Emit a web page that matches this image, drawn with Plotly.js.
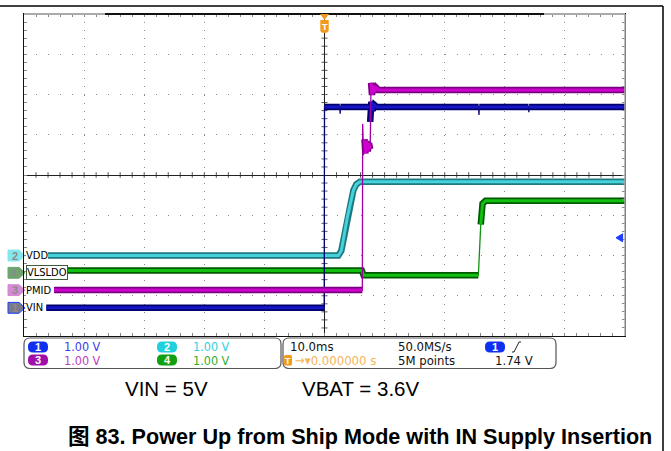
<!DOCTYPE html>
<html><head><meta charset="utf-8">
<script src="https://cdn.plot.ly/plotly-3.0.1.min.js"></script>
<style>html,body{margin:0;padding:0;background:#fff;}#chart{width:671px;height:451px;}</style>
</head><body><div id="chart"></div>
<script>
// ---- data (time in ms, 10 ms/div; amplitude in volts, 1.00 V/div) ----
const channelNames = ['VIN', 'VDD', 'PMID', 'VLSLDO'];
const channelNums = ['1', '2', '3', '4'];
const channelOffsetsDiv = [-3.30, -2.00, -2.86, -2.43];   // ground markers, divisions from centre
const voltsPerDiv = [1.00, 1.00, 1.00, 1.00];
const scaleLabels = ['1.00 V', '1.00 V', '1.00 V', '1.00 V'];

const vinTime  = [-46.3, -0.05, 0.0, 2.55, 2.6, 2.65, 7.5, 7.6, 7.8, 8.0, 8.3, 8.7, 25.65, 25.7, 25.75, 33.95, 34.0, 34.05, 50];
const vinVolts = [0.0, 0.0, 4.99, 4.99, 4.82, 4.99, 4.99, 4.62, 5.12, 4.90, 5.04, 4.99, 4.99, 4.79, 4.99, 4.99, 4.86, 4.99, 4.99];

const vddTime  = [-46.3, 2.3, 2.8, 3.8, 4.8, 5.3, 5.9, 50];
const vddVolts = [0.0, 0.0, 0.12, 0.95, 1.62, 1.77, 1.83, 1.83];

const pmidTime  = [-45.0, 6.3, 6.35, 6.5, 6.65, 6.8, 7.0, 7.2, 7.4, 7.6, 7.75, 7.9, 8.1, 8.3, 8.6, 9.0, 50];
const pmidVolts = [0.0, 0.0, 4.13, 3.35, 3.75, 3.40, 3.70, 3.45, 3.65, 3.50, 5.15, 4.85, 5.08, 4.92, 5.03, 4.97, 4.97];

const vlsTime  = [-43.7, 6.2, 6.5, 25.6, 26.0, 26.3, 26.8, 50];
const vlsVolts = [0.06, 0.06, -0.06, -0.06, 1.20, 1.72, 1.79, 1.79];

const timebase = '10.0ms', sampleRate = '50.0MS/s', recordLen = '5M points';
const triggerPos = '0.000000 s', triggerChannel = 0, triggerLevel = 1.74;
const noteLeft = 'VIN = 5V', noteRight = 'VBAT = 3.6V';
const caption = '图 83. Power Up from Ship Mode with IN Supply Insertion';

// ---- geometry helpers (pixel -> paper) ----
const L = 24, R = 625, T = 14, B = 336;
const px2x = p => (p - L) / (R - L);
const py2y = p => (B - p) / (B - T);
const NARROW = 'Liberation Sans Narrow, DejaVu Sans Condensed, Liberation Sans, sans-serif';
const ARIAL = 'Liberation Sans, Arial, Noto Sans CJK SC, sans-serif';

const seriesT = [vinTime, vddTime, pmidTime, vlsTime];
const seriesV = [vinVolts, vddVolts, pmidVolts, vlsVolts];
const styles = [
  {core: '#1616C8', edge: '#00006A', thin: '#000070', mark: '#7a7a8a', markLine: '#1a3cff', pill: '#1030F0', txt: '#3C3CF0'},
  {core: '#46D2DA', edge: '#1E7A80', thin: '#2AA0A8', mark: '#86E6EE', markLine: '#86E6EE', pill: '#20D0DC', txt: '#30D0DC'},
  {core: '#D000D0', edge: '#7A0080', thin: '#A000A8', mark: '#D48AD4', markLine: '#D48AD4', pill: '#A010A8', txt: '#C040C0'},
  {core: '#12C012', edge: '#005A00', thin: '#109010', mark: '#6FA46F', markLine: '#6FA46F', pill: '#10A010', txt: '#30B030'}
];
const drawOrder = [1, 3, 0, 2];
const slopeThr = 2.5; // div per ms: steeper segments drawn as thin edges

const traces = [];
drawOrder.forEach(c => {
  const t = seriesT[c], y = seriesV[c].map(v => channelOffsetsDiv[c] + v / voltsPerDiv[c]);
  const bx = [], by = [];
  for (let i = 0; i < t.length; i++) {
    if (i > 0 && Math.abs(y[i] - y[i - 1]) / (t[i] - t[i - 1]) > slopeThr) { bx.push(null); by.push(null); }
    bx.push(t[i]); by.push(y[i]);
  }
  const s = styles[c];
  traces.push({x: t, y: y, mode: 'lines', line: {color: s.thin, width: 1.3}, hoverinfo: 'skip', showlegend: false});
  traces.push({x: bx, y: by, mode: 'lines', connectgaps: false, line: {color: s.edge, width: 6.5}, hoverinfo: 'skip', showlegend: false});
  traces.push({x: bx, y: by, mode: 'lines', connectgaps: false, line: {color: s.core, width: 3}, hoverinfo: 'skip', showlegend: false, name: channelNames[c]});
});

const shapes = [], annotations = [];
// centre-line tick marks
for (let t = -48; t <= 48; t += 2) if (t !== 0)
  shapes.push({type: 'line', xref: 'x', yref: 'y', x0: t, x1: t, y0: -0.07, y1: 0.07, line: {color: '#555', width: 1}, layer: 'below'});
for (let k = -19; k <= 19; k++) if (k !== 0)
  shapes.push({type: 'line', xref: 'x', yref: 'y', x0: -0.5, x1: 0.5, y0: k * 0.2, y1: k * 0.2, line: {color: '#555', width: 1}, layer: 'below'});

// top record bar and right border
shapes.push({type: 'line', xref: 'paper', yref: 'paper', x0: 0, x1: px2x(105), y0: 1, y1: 1, line: {color: '#AAAAAA', width: 2.2}});
shapes.push({type: 'line', xref: 'paper', yref: 'paper', x0: px2x(105), x1: px2x(544), y0: 1, y1: 1, line: {color: '#111', width: 2.2}});
shapes.push({type: 'line', xref: 'paper', yref: 'paper', x0: px2x(544), x1: 1, y0: 1, y1: 1, line: {color: '#AAAAAA', width: 2.2}});
shapes.push({type: 'line', xref: 'paper', yref: 'paper', x0: 1, x1: 1, y0: 0, y1: 1, line: {color: '#AAAAAA', width: 1.5}});
// outer page frame
shapes.push({type: 'line', xref: 'paper', yref: 'paper', x0: px2x(0), x1: px2x(663), y0: py2y(6), y1: py2y(6), line: {color: '#000', width: 1.5}});
shapes.push({type: 'line', xref: 'paper', yref: 'paper', x0: px2x(663), x1: px2x(663), y0: py2y(6), y1: py2y(451), line: {color: '#000', width: 1.5}});

// centred label helper
const ctr = (xref, x, yref, y, text, size, color, fam) => annotations.push({xref: xref, yref: yref, x: x, y: y,
  xanchor: 'center', yanchor: 'middle', text: text, showarrow: false, font: {family: fam || ARIAL, size: size, color: color}});

// trigger position marker
shapes.push({type: 'path', xref: 'x', yref: 'paper', path: `M -0.75,${py2y(14)} L 0.75,${py2y(14)} L 0,${py2y(20)} Z`, fillcolor: '#F29A1E', line: {width: 0}});
shapes.push({type: 'path', xref: 'x', yref: 'paper', path: `M -0.7,${py2y(20)} L 0.7,${py2y(20)} L 0.7,${py2y(30)} Q 0.7,${py2y(33)} 0,${py2y(33)} Q -0.7,${py2y(33)} -0.7,${py2y(30)} Z`, fillcolor: '#F29A1E', line: {width: 0}});
ctr('x', 0, 'paper', py2y(26.5), '<b>T</b>', 9, '#fff');

// trigger level arrow (right edge)
const trigY = channelOffsetsDiv[triggerChannel] + triggerLevel / voltsPerDiv[triggerChannel];
shapes.push({type: 'path', xref: 'x', yref: 'y', path: `M 48.5,${trigY} L 49.6,${trigY + 0.1} L 49.6,${trigY - 0.1} Z`, fillcolor: '#1E3CFF', line: {color: '#1E3CFF', width: 1}});

// channel ground markers and labels
for (let c = 0; c < 4; c++) {
  const off = channelOffsetsDiv[c], h = 0.135, s = styles[c];
  shapes.push({type: 'path', xref: 'paper', yref: 'y', layer: 'below',
    path: `M ${px2x(8)},${off + h} L ${px2x(19)},${off + h} L ${px2x(25)},${off} L ${px2x(19)},${off - h} L ${px2x(8)},${off - h} Z`,
    fillcolor: s.mark, line: {color: s.markLine, width: 1}});
  ctr('paper', px2x(14.5), 'y', off, '<b>' + channelNums[c] + '</b>', 11, '#8C8C8C');
  annotations.push({xref: 'paper', yref: 'y', x: px2x(25.5), y: off, xanchor: 'left', yanchor: 'middle', text: channelNames[c], showarrow: false,
    font: {family: NARROW, size: 11, color: '#000'}, bgcolor: '#fff', borderpad: 0,
    bordercolor: c === 3 ? '#3d5d3d' : 'rgba(0,0,0,0)', borderwidth: c === 3 ? 1 : 0});
}

// info boxes
function rr(x0, y0, x1, y1, r) {
  const P = (x, y) => px2x(x) + ',' + py2y(y);
  return `M ${P(x0 + r, y0)} L ${P(x1 - r, y0)} Q ${P(x1, y0)} ${P(x1, y0 + r)} L ${P(x1, y1 - r)} Q ${P(x1, y1)} ${P(x1 - r, y1)} L ${P(x0 + r, y1)} Q ${P(x0, y1)} ${P(x0, y1 - r)} L ${P(x0, y0 + r)} Q ${P(x0, y0)} ${P(x0 + r, y0)} Z`;
}
shapes.push({type: 'path', xref: 'paper', yref: 'paper', layer: 'below', path: rr(24, 338, 281, 368.5, 6), line: {color: '#555', width: 1.2}});
shapes.push({type: 'path', xref: 'paper', yref: 'paper', layer: 'below', path: rr(283, 338, 556, 368.5, 6), line: {color: '#555', width: 1.2}});
const txt = (xpx, ypx, text, color, size, fam) => annotations.push({xref: 'paper', yref: 'paper', x: px2x(xpx), y: py2y(ypx),
  xanchor: 'left', yanchor: 'middle', text: text, showarrow: false, font: {family: fam || NARROW, size: size || 13, color: color}});
const pill = (cx, cy, fill, num) => {
  shapes.push({type: 'path', xref: 'paper', yref: 'paper', layer: 'below', path: rr(cx - 10, cy - 5.5, cx + 10, cy + 5.5, 5), fillcolor: fill, line: {width: 0}});
  ctr('paper', px2x(cx), 'paper', py2y(cy), '<b>' + num + '</b>', 11, '#fff');
};
const pillPos = [[38, 347], [167, 347], [38, 360], [167, 360]];
const txtPos = [[62, 347], [191, 347], [62, 360], [191, 360]];
for (let c = 0; c < 4; c++) {
  pill(pillPos[c][0], pillPos[c][1], styles[c].pill, channelNums[c]);
  txt(txtPos[c][0], txtPos[c][1], scaleLabels[c], styles[c].txt, 12.5);
}
txt(288, 347, timebase, '#111');
txt(396, 347, sampleRate, '#111');
pill(495, 347, styles[triggerChannel].pill, channelNums[triggerChannel]);
shapes.push({type: 'path', xref: 'paper', yref: 'paper', path: `M ${px2x(512)},${py2y(352)} L ${px2x(514)},${py2y(352)} L ${px2x(519)},${py2y(342)} L ${px2x(521)},${py2y(342)}`, line: {color: '#222', width: 1}});
shapes.push({type: 'path', xref: 'paper', yref: 'paper', layer: 'below', path: rr(284, 355, 292, 365.5, 1.5), fillcolor: '#F29A1E', line: {width: 0}});
ctr('paper', px2x(288), 'paper', py2y(360.5), '<b>T</b>', 9, '#fff');
txt(292.5, 360, '→▾' + triggerPos, '#F5B45A');
txt(396, 360, recordLen, '#111');
txt(493, 360, triggerLevel.toFixed(2) + ' V', '#111');

// captions below the screenshot
txt(123, 388, noteLeft, '#000', 20.5, ARIAL);
txt(300, 388, noteRight, '#000', 20.5, ARIAL);
txt(66, 436, '<b>' + caption + '</b>', '#000', 21.6, ARIAL);

const layout = {
  width: 671, height: 451,
  margin: {l: L, r: 671 - R, t: T, b: 451 - B, pad: 0},
  paper_bgcolor: '#fff', plot_bgcolor: '#fff',
  showlegend: false,
  xaxis: {range: [-50, 50], dtick: 10, tick0: 0, showgrid: true, gridcolor: '#8a8a8a', gridwidth: 1, griddash: '1px,7.05px',
    zeroline: true, zerolinecolor: '#222', zerolinewidth: 1, showline: true, linecolor: '#111', linewidth: 1.2, mirror: 'ticks',
    ticks: 'inside', ticklen: 3, tickcolor: '#888', showticklabels: false, fixedrange: true,
    minor: {dtick: 2, ticks: 'inside', ticklen: 3, tickcolor: '#888', showgrid: false}},
  yaxis: {range: [-4, 4], dtick: 1, tick0: 0, showgrid: true, gridcolor: '#8a8a8a', gridwidth: 1, griddash: '1px,11.02px',
    zeroline: true, zerolinecolor: '#222', zerolinewidth: 1, showline: true, linecolor: '#111', linewidth: 1.2, mirror: 'ticks',
    ticks: 'inside', ticklen: 3, tickcolor: '#888', showticklabels: false, fixedrange: true,
    minor: {dtick: 0.2, ticks: 'inside', ticklen: 3, tickcolor: '#888', showgrid: false}},
  shapes: shapes,
  annotations: annotations
};
Plotly.newPlot('chart', traces, layout, {displayModeBar: false, staticPlot: true});
</script>
</body></html>
